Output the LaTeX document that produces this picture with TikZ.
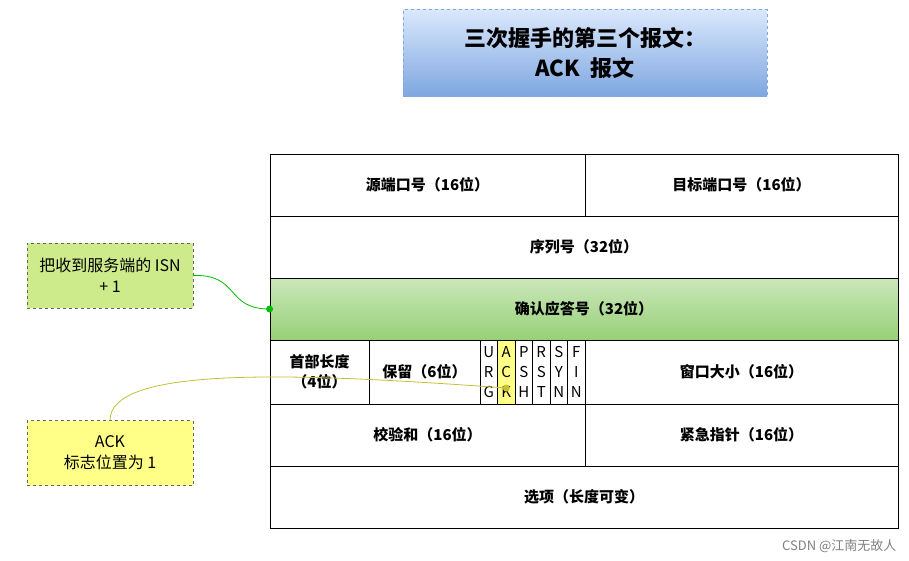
\documentclass[tikz,border=0pt]{standalone}
\usepackage{fontspec}
\setmainfont{Noto Sans CJK SC}
\usetikzlibrary{positioning}
\definecolor{notegreen}{HTML}{CDEB8B}
\definecolor{noteyellow}{HTML}{FFFF88}
\definecolor{ackgreen}{HTML}{97D077}
\definecolor{titletop}{HTML}{DAE8FC}
\definecolor{titlebot}{HTML}{7EA6E0}
\newcommand\flagtext[3]{#1\\#2\\#3}
\begin{document}
\begin{tikzpicture}[x=1pt,y=-1pt,font=\fontsize{15}{19}\selectfont]
\tikzstyle{field} = [draw=black, thick, inner sep=0pt, font=\fontsize{15}{20}\selectfont\bfseries]
\tikzstyle{note} = [draw=gray!80!black, dashed, inner sep=0pt, align=center, minimum width=166pt, minimum height=65pt, font=\fontsize{16}{21}\selectfont]
\tikzstyle{link} = [thick]
\useasboundingbox (0,0) rectangle (909,560);

% Title
\node (title) [draw=titlebot, dashed, thick, top color=titletop, bottom color=titlebot, minimum width=364pt, minimum height=87pt, align=center, font=\fontsize{22}{30}\selectfont\bfseries] at (585,53) {三次握手的第三个报文：\\ACK\ \ 报文};

% Header fields
\node (src) [field, minimum width=315pt, minimum height=62pt] at (427.5,185) {源端口号（16位）};
\node (dst) [field, minimum width=313pt, minimum height=62pt] at (741.5,185) {目标端口号（16位）};
\node (seq) [field, minimum width=628pt, minimum height=62pt] at (584,247) {序列号（32位）};
\node (ack) [field, top color=ackgreen!50, bottom color=ackgreen, minimum width=628pt, minimum height=62pt] at (584,309) {确认应答号（32位）};
\node (hlen) [field, minimum width=99pt, minimum height=64pt, align=center] at (319.5,372) {首部长度\\（4位）};
\node (rsv) [field, minimum width=111pt, minimum height=64pt] at (424.5,372) {保留（6位）};
\fill [noteyellow] (497.5,340) rectangle (515,404);
\foreach \f [count=\i] in {URG,ACK,PSH,RST,SYN,FIN}{
  \node (flag\i) [draw=black, inner sep=0pt, minimum width=17.5pt, minimum height=64pt, align=center, font=\fontsize{15}{20}\selectfont]
    at (471.25+17.5*\i,372) {\expandafter\flagtext\f};
}
\node (win) [field, minimum width=313pt, minimum height=64pt] at (741.5,372) {窗口大小（16位）};
\node (chk) [field, minimum width=315pt, minimum height=62pt] at (427.5,435) {校验和（16位）};
\node (urg) [field, minimum width=313pt, minimum height=62pt] at (741.5,435) {紧急指针（16位）};
\node (opt) [field, minimum width=628pt, minimum height=62pt] at (584,497) {选项（长度可变）};

% Notes
\node (isn) [note, fill=notegreen] at (110,275.5) {把收到服务端的 ISN\\+ 1};
\node (flagnote) [note, fill=noteyellow] at (110,453) {ACK\\标志位置为 1};

% Links
\draw [link, green!75!black] (isn.east) .. controls (240,274) and (225,309) .. (ack.west);
\fill [green!75!black] (ack.west) circle (3.5pt);
\coordinate (ackdot) at (506.25,388);
\draw [link, yellow!75!black] (flagnote.north) .. controls (110,365) and (300,373) .. (ackdot);
\fill [yellow!75!black] (ackdot) circle (3.5pt);

\node [text=gray, font=\fontsize{13}{16}\selectfont, anchor=south east] at (900,556) {CSDN @江南无故人};
\end{tikzpicture}
\end{document}
